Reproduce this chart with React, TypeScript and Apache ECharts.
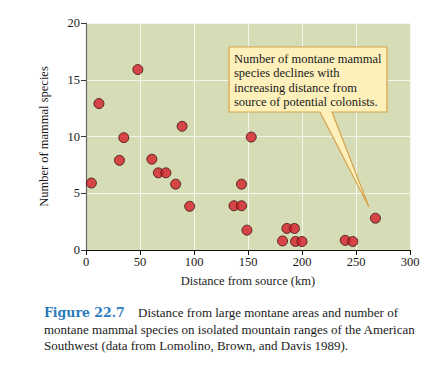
import React, { useEffect, useRef } from "react";
import * as echarts from "echarts";

const distances = [5, 12, 31, 35, 48, 61, 67, 74, 83, 89, 96, 137, 144, 144, 149, 153, 182, 186, 193, 194, 200, 240, 247, 268];
const species = [5.9, 12.9, 7.9, 9.9, 15.9, 8, 6.8, 6.8, 5.8, 10.9, 3.85, 3.9, 3.9, 5.8, 1.75, 9.95, 0.8, 1.9, 1.9, 0.75, 0.75, 0.85, 0.75, 2.8];
const xTicks = [0, 50, 100, 150, 200, 250, 300];
const yTicks = [0, 5, 10, 15, 20];
const noteLines = [
  "Number of montane mammal",
  "species declines with",
  "increasing distance from",
  "source of potential colonists.",
];
const captionTitle = "Figure 22.7";
const captionLines = [
  "Distance from large montane areas and number of",
  "montane mammal species on isolated mountain ranges of the American",
  "Southwest (data from Lomolino, Brown, and Davis 1989).",
];

const SERIF = "'Liberation Serif', 'DejaVu Serif', serif";

export default function App() {
  const ref = useRef<HTMLDivElement>(null);
  useEffect(() => {
    document.body.style.margin = "0";
    if (!ref.current) return;
    const chart = echarts.init(ref.current, null, { renderer: "svg" });
    const points = distances.map((d, i) => [d, species[i]]);
    chart.setOption({
      animation: false,
      textStyle: { fontFamily: SERIF },
      grid: {
        left: 86,
        right: 22,
        top: 23,
        bottom: 119,
        show: true,
        backgroundColor: "#d6dcb6",
        borderWidth: 0,
      },
      xAxis: {
        type: "value",
        min: xTicks[0],
        max: xTicks[xTicks.length - 1],
        interval: 50,
        name: "Distance from source (km)",
        nameLocation: "middle",
        nameGap: 24,
        nameTextStyle: { fontFamily: SERIF, fontSize: 12.5, color: "#1a1a1a" },
        axisLine: { show: true, onZero: false, lineStyle: { color: "#111", width: 1.2 } },
        axisTick: { show: true, length: 5, lineStyle: { color: "#111" } },
        axisLabel: { fontFamily: SERIF, fontSize: 12.5, color: "#1a1a1a", margin: 5 },
        splitLine: { show: true, lineStyle: { color: "#f4f6ea", width: 1 } },
      },
      yAxis: {
        type: "value",
        min: yTicks[0],
        max: yTicks[yTicks.length - 1],
        interval: 5,
        name: "Number of mammal species",
        nameLocation: "middle",
        nameGap: 36,
        nameTextStyle: { fontFamily: SERIF, fontSize: 12.5, color: "#1a1a1a" },
        axisLine: { show: true, onZero: false, lineStyle: { color: "#666", width: 1.2 } },
        axisTick: { show: true, length: 5, lineStyle: { color: "#333" } },
        axisLabel: { fontFamily: SERIF, fontSize: 12.5, color: "#1a1a1a", margin: 6 },
        splitLine: { show: true, lineStyle: { color: "#f4f6ea", width: 1 } },
      },
      series: [
        {
          type: "scatter",
          data: points,
          symbolSize: 10,
          itemStyle: { color: "#d61f2a", borderColor: "#3a1010", borderWidth: 1 },
          z: 3,
        },
      ],
      graphic: [
        {
          type: "polygon",
          z: 10,
          shape: {
            points: [
              [229, 47],
              [387, 47],
              [387, 112],
              [332, 112],
              [369, 207],
              [320, 112],
              [229, 112],
            ],
          },
          style: { fill: "#fdf0bb", stroke: "#d7a24a", lineWidth: 1.2 },
        },
        ...noteLines.map((t, i) => ({
          type: "text",
          z: 11,
          x: 234,
          y: 52 + i * 14.5,
          style: { text: t, font: `12.5px ${SERIF}`, fill: "#1a1a1a" },
        })),
        {
          type: "text",
          x: 44,
          y: 306,
          style: {
            text: captionTitle,
            font: `bold 12.5px 'DejaVu Serif', serif`,
            fill: "#2b7bbd",
          },
        },
        ...captionLines.map((t, i) => ({
          type: "text",
          x: i === 0 ? 138 : 44,
          y: 306 + i * 16.5,
          style: { text: t, font: `13px ${SERIF}`, fill: "#1a1a1a" },
        })),
      ],
    });
    return () => chart.dispose();
  }, []);
  return <div ref={ref} style={{ width: 432, height: 369 }} />;
}
